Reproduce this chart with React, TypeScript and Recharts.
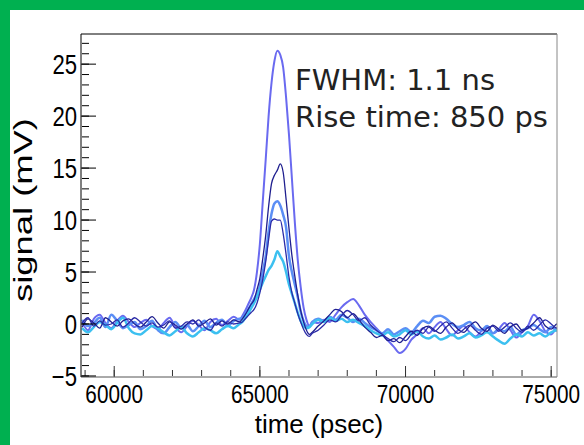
import { LineChart, Line, XAxis, YAxis } from 'recharts';

// sample times (psec): coarse baseline, finer around the pulse
const TIME_A = [58900, 59100, 59300, 59500, 59700, 59900, 60100, 60300, 60500, 60700, 60900, 61100, 61300, 61500,
  61700, 61900, 62100, 62300, 62500, 62700, 62900, 63100, 63300, 63500, 63700, 63900, 64100, 64300];
const TIME_B = [64400, 64500, 64600, 64700, 64800, 64900, 65000, 65100, 65200, 65300, 65400, 65500, 65600,
  65700, 65800, 65900, 66000, 66100, 66200, 66300, 66400, 66500, 66600, 66700, 66800];
const TIME_C = [67000, 67200, 67400, 67600, 67800, 68000, 68200, 68400, 68600, 68800, 69000, 69200, 69400, 69600,
  69800, 70000, 70200, 70400, 70600, 70800, 71000, 71200, 71400, 71600, 71800, 72000, 72200, 72400, 72600, 72800,
  73000, 73200, 73400, 73600, 73800, 74000, 74200, 74400, 74600, 74800, 75000, 75200, 75400];

// signal (mV)
const S1 = [
  0.2, -0.6, 0.5, 0.9, 0.1, -0.4, 0.3, 0.8, 0.2, -0.3, 0.1, 0.4, -0.2, -0.5, 0.1, 0.6, -0.3, -0.8, -0.2, 0.3, -0.1, -0.6, 0.2, 0.5, -0.1, 0.3, 0.7, 0.4,
  0.8, 1.3, 1.9, 2.5, 3.3, 5.0, 7.7, 11.8, 15.8, 20.0, 23.2, 25.3, 26.3, 25.9, 24.7, 21.8, 18.2, 14.0, 9.8, 6.2, 3.6, 1.6, 0.4, -0.2, 0.2,
  0.1, 0.4, 0.2, 0.9, 1.6, 2.1, 2.4, 1.8, 0.9, 0.2, -0.4, -1.0, -1.6, -2.2, -2.8, -2.4, -1.5, -1.0, -0.4, -0.9, -0.3, 0.2, -0.5, -1.1, -0.6, -0.2, -0.8, -1.2, -0.7, -0.3, -0.9, -0.5, 0.1, -0.6, -1.3, -0.8, -0.2, 0.9, 0.3, -0.7, -1.0, -0.4, -0.6,
];
const S2 = [
  -0.3, 0.5, 0.1, -0.4, 0.6, 0.2, -0.2, 0.3, 0.5, 0.0, -0.3, 0.2, 0.7, 0.1, -0.4, 0.2, -0.1, -0.5, 0.0, 0.4, -0.2, 0.1, 0.5, -0.1, 0.3, 0.0, 0.4, 0.2,
  0.5, 0.9, 1.4, 1.9, 2.3, 3.3, 4.4, 6.3, 8.5, 11.3, 13.5, 14.3, 14.8, 15.4, 14.6, 12.0, 9.2, 6.6, 4.6, 2.8, 1.3, 0.2, -0.6, -1.0, -0.8,
  -0.2, 0.3, 0.9, 1.4, 1.2, 0.6, 1.0, 0.4, -0.3, -0.8, -1.3, -1.1, -1.6, -1.4, -1.8, -1.2, -0.7, -1.1, -0.4, -0.2, -0.6, -0.9, -0.3, 0.1, -0.5, -0.8, -0.2, 0.2, -0.4, -0.7, -0.1, -0.5, -0.9, -0.3, 0.0, -0.6, -0.4, 0.1, 0.6, -0.2, -0.5, 0.0, -0.3,
];
const S3 = [
  0.4, -0.2, 0.1, 0.6, -0.3, 0.9, 0.3, -0.4, -0.1, 0.2, -0.5, -0.2, 0.3, -0.6, -0.9, -0.3, 0.2, -0.4, -0.1, -0.7, -0.2, 0.3, -0.3, 0.1, 0.4, -0.2, 0.3, 0.5,
  0.6, 1.0, 1.4, 1.9, 2.4, 2.9, 3.6, 5.0, 6.5, 8.9, 10.6, 11.6, 11.8, 11.4, 10.5, 9.3, 6.5, 5.0, 3.8, 2.6, 1.2, 0.3, -0.2, -0.3, 0.2,
  0.5, 0.3, 0.7, 0.4, 0.9, 0.6, 0.2, 0.5, 0.1, -0.3, -0.6, -0.9, -0.5, -1.0, -0.7, -0.4, -0.8, -0.2, 0.3, 0.1, 0.7, 0.8, 0.5, 0.0, -0.3, -0.1, 0.2, -0.4, -0.6, -0.2, -0.9, -0.5, -0.7, -0.3, -1.0, -0.6, -0.4, -0.1, -0.5, -0.8, -0.3, -0.6, -0.4,
];
const S4 = [
  0.1, 0.6, -0.2, 0.3, -0.1, 0.0, 0.4, -0.3, 0.1, 0.6, 0.2, -0.2, 0.1, -0.3, -0.1, 0.3, -0.4, -0.2, 0.2, 0.0, 0.4, -0.3, -0.6, 0.1, -0.2, 0.2, 0.0, 0.1,
  0.2, 0.5, 0.8, 1.1, 1.4, 2.0, 3.0, 4.3, 6.0, 8.1, 9.9, 10.1, 10.0, 10.0, 8.7, 6.7, 4.5, 3.0, 2.0, 1.0, 0.2, -0.5, -1.0, -1.2, -0.9,
  -0.6, -0.1, 0.4, 0.2, 0.8, 1.3, 0.9, 0.3, 0.6, -0.1, -0.6, -1.0, -1.4, -1.7, -1.3, -1.6, -1.0, -0.6, -0.9, -0.3, -0.7, -0.2, 0.2, -0.4, -0.9, -0.5, -0.1, -0.6, -1.0, -0.4, -0.2, -0.7, -0.3, 0.1, -0.4, -0.8, -0.2, -0.6, -0.1, 0.4, 0.0, -0.4, -0.2,
];
const S5 = [
  -0.4, -0.8, -0.3, 0.2, -0.1, -0.5, 0.1, 0.6, -0.4, -0.9, -1.0, -0.6, -0.2, -0.4, -0.8, -1.1, -0.7, -0.3, -0.9, -1.2, -0.8, -0.4, -0.6, -0.9, -0.5, -0.2, -0.4, 0.0,
  0.2, 0.6, 1.0, 1.5, 2.0, 2.6, 3.3, 4.0, 4.6, 5.2, 5.6, 6.2, 7.0, 6.5, 6.0, 5.0, 3.8, 2.9, 2.0, 1.1, 0.3, -0.2, -0.4, -0.3, 0.0,
  0.4, 0.2, 0.6, 0.3, 0.5, 0.2, 0.4, 0.1, -0.2, -0.6, -0.9, -1.1, -0.8, -1.2, -1.0, -0.6, -1.0, -0.7, -1.2, -1.4, -1.1, -1.5, -1.3, -1.0, -1.4, -1.2, -0.9, -1.3, -1.1, -0.8, -1.2, -1.6, -1.9, -1.4, -1.0, -1.2, -0.8, -1.1, -0.9, -1.2, -0.8, -0.6, -0.9,
];

const X_MAJOR = [60000, 65000, 70000, 75000];
const X_MINOR = [59000, 60000, 61000, 62000, 63000, 64000, 65000, 66000, 67000, 68000, 69000, 70000, 71000, 72000, 73000, 74000, 75000];
const Y_MAJOR = [-5, 0, 5, 10, 15, 20, 25];
const Y_MINOR = [-5, -4, -3, -2, -1, 0, 1, 2, 3, 4, 5, 6, 7, 8, 9, 10, 11, 12, 13, 14, 15, 16, 17, 18, 19, 20, 21, 22, 23, 24, 25, 26, 27];

const X_DOMAIN: [number, number] = [58860, 75200];
const Y_DOMAIN: [number, number] = [-5.1, 27.9];

const TIME = [...TIME_A, ...TIME_B, ...TIME_C];
const rows = TIME.map((t, i) => ({ time: t, s1: S1[i], s2: S2[i], s3: S3[i], s4: S4[i], s5: S5[i] }));

const SANS = '"Liberation Sans", Arial, Helvetica, sans-serif';
const GREEN = '#00b050';

const fmt = (v: number) => (v < 0 ? `\u2212${-v}` : `${v}`);

// ROOT-ish labels are a little condensed
function XTick({ x, y, payload }: any) {
  return (
    <g transform={`translate(${x},${y})`}>
      <text x={0} y={0} dy="0.71em" textAnchor="middle" transform="scale(0.83,1)"
        style={{ fontFamily: SANS, fontSize: 25, fill: '#000' }}>{fmt(payload.value)}</text>
    </g>
  );
}

function YTick({ x, y, payload }: any) {
  return (
    <g transform={`translate(${x},${y})`}>
      <text x={0} y={0} dy="0.36em" textAnchor="end" transform="scale(0.82,1)"
        style={{ fontFamily: SANS, fontSize: 27, fill: '#000' }}>{fmt(payload.value)}</text>
    </g>
  );
}

const NoLabel = () => <g />;

export default function App() {
  return (
    <div style={{ position: 'absolute', left: 0, top: 0, width: 584, height: 445, background: '#fff', overflow: 'hidden' }}>
      <div style={{ position: 'absolute', left: 0, top: 0, width: 584, height: 10, background: GREEN }} />
      <div style={{ position: 'absolute', left: 0, top: 0, width: 10, height: 445, background: GREEN }} />
      <div style={{ position: 'absolute', left: 0, top: 0 }}>
        <LineChart width={584} height={445} data={rows} margin={{ top: 34, right: 27, bottom: 0, left: 0 }}>
          <XAxis
            dataKey="time" type="number" domain={X_DOMAIN} allowDataOverflow ticks={X_MAJOR} interval={0}
            height={68} tickLine={false} tickSize={0} tickMargin={8} axisLine={{ stroke: '#555' }} tick={<XTick />}
            label={{ value: 'time (psec)', position: 'insideBottom', offset: 12, style: { fontFamily: SANS, fontSize: 26, fill: '#000' } }}
          />
          <XAxis xAxisId="xmin" dataKey="time" type="number" domain={X_DOMAIN} allowDataOverflow ticks={X_MINOR} interval={0}
            mirror height={1} tick={NoLabel} tickSize={6} tickMargin={0} tickLine={{ stroke: '#333' }} axisLine={false} />
          <XAxis xAxisId="xmaj" dataKey="time" type="number" domain={X_DOMAIN} allowDataOverflow ticks={X_MAJOR} interval={0}
            mirror height={1} tick={NoLabel} tickSize={11} tickMargin={0} tickLine={{ stroke: '#333' }} axisLine={false} />
          <XAxis xAxisId="top" orientation="top" dataKey="time" type="number" domain={X_DOMAIN} allowDataOverflow
            mirror height={1} tick={false} tickLine={false} axisLine={{ stroke: '#000' }} />
          <YAxis
            type="number" domain={Y_DOMAIN} allowDataOverflow ticks={Y_MAJOR} interval={0}
            width={81} tickLine={false} tickSize={0} tickMargin={4} axisLine={{ stroke: '#000' }} tick={<YTick />}
          />
          <YAxis yAxisId="ymin" type="number" domain={Y_DOMAIN} allowDataOverflow ticks={Y_MINOR} interval={0}
            mirror width={1} tick={NoLabel} tickSize={7} tickMargin={0} tickLine={{ stroke: '#000' }} axisLine={false} />
          <YAxis yAxisId="ymaj" type="number" domain={Y_DOMAIN} allowDataOverflow ticks={Y_MAJOR} interval={0}
            mirror width={1} tick={NoLabel} tickSize={15} tickMargin={0} tickLine={{ stroke: '#000' }} axisLine={false} />
          <YAxis yAxisId="right" orientation="right" type="number" domain={Y_DOMAIN} allowDataOverflow
            mirror width={1} tick={false} tickLine={false} axisLine={{ stroke: '#888' }} />
          <Line type="monotone" dataKey="s1" stroke="#6a6af0" strokeWidth={2} dot={false} isAnimationActive={false} />
          <Line type="monotone" dataKey="s3" stroke="#5b8ef5" strokeWidth={2.5} dot={false} isAnimationActive={false} />
          <Line type="monotone" dataKey="s5" stroke="#3cc0f0" strokeWidth={2.5} dot={false} isAnimationActive={false} />
          <Line type="monotone" dataKey="s2" stroke="#1f1f8f" strokeWidth={1.3} dot={false} isAnimationActive={false} />
          <Line type="monotone" dataKey="s4" stroke="#2b2ba8" strokeWidth={1.3} dot={false} isAnimationActive={false} />
        </LineChart>
      </div>
      <svg width={584} height={445} style={{ position: 'absolute', left: 0, top: 0, pointerEvents: 'none' }}>
        <text x={32} y={210} transform="rotate(-90 32 210)" textAnchor="middle" textLength={184} lengthAdjust="spacingAndGlyphs"
          style={{ fontFamily: SANS, fontSize: 26, fill: '#000' }}>signal (mV)</text>
        <g style={{ fontFamily: '"DejaVu Sans", sans-serif', fontSize: 29, fill: '#222' }}>
          <text x={295} y={90}>FWHM: 1.1 ns</text>
          <text x={295} y={127}>Rise time: 850 ps</text>
        </g>
      </svg>
    </div>
  );
}
